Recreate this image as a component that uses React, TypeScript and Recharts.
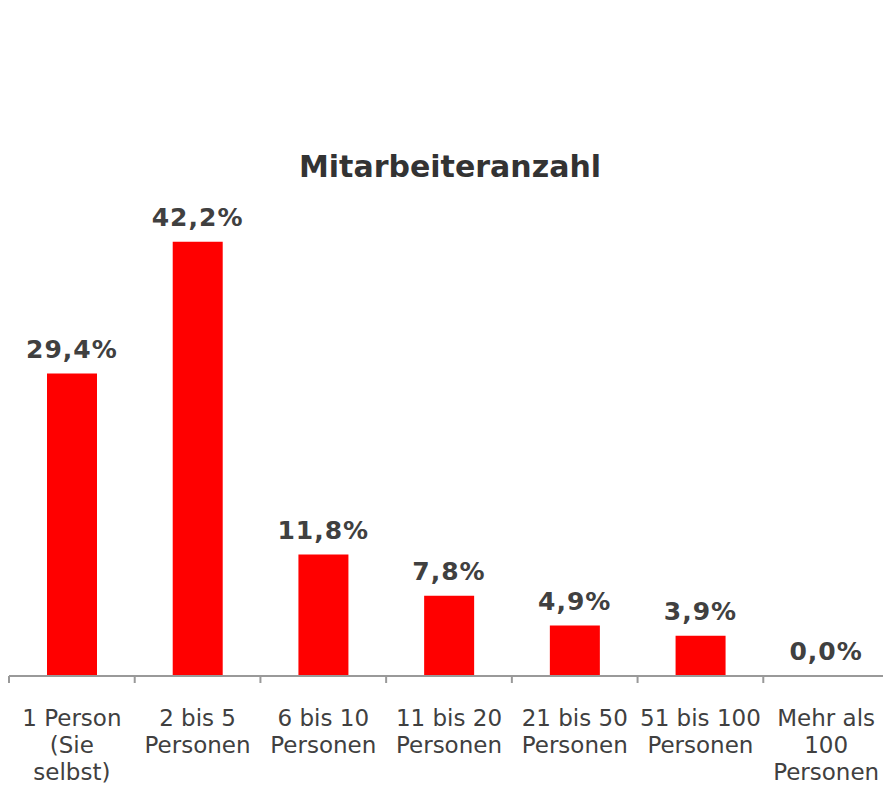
import React from "react";
import { ComposedChart, Bar, Line, XAxis, YAxis, LabelList } from "recharts";

const categories = [
  "1 Person (Sie selbst)",
  "2 bis 5 Personen",
  "6 bis 10 Personen",
  "11 bis 20 Personen",
  "21 bis 50 Personen",
  "51 bis 100 Personen",
  "Mehr als 100 Personen",
];

const tickLines = [
  ["1 Person", "(Sie", "selbst)"],
  ["2 bis 5", "Personen"],
  ["6 bis 10", "Personen"],
  ["11 bis 20", "Personen"],
  ["21 bis 50", "Personen"],
  ["51 bis 100", "Personen"],
  ["Mehr als", "100", "Personen"],
];

const values = [29.4, 42.2, 11.8, 7.8, 4.9, 3.9, 0.0];

const title = "Mitarbeiteranzahl";

const data = categories.map((c, i) => ({ category: c, value: values[i] }));

const FONT = "'DejaVu Sans', Verdana, sans-serif";
const TEXT = "#404040";
const AXIS = "#999999";

const Tick = (props: any) => {
  const { x, y, index, width, visibleTicksCount } = props;
  const band = (width || 880) / (visibleTicksCount || categories.length);
  const lines = tickLines[index] || [];
  const left = x - band / 2;
  return (
    <g>
      <line x1={left} x2={left} y1={y} y2={y + 7} stroke={AXIS} strokeWidth={2} />
      {index === categories.length - 1 && (
        <line x1={left + band} x2={left + band} y1={y} y2={y + 7} stroke={AXIS} strokeWidth={2} />
      )}
      <text textAnchor="middle" fontFamily={FONT} fontSize={23} fill={TEXT}>
        {lines.map((l, i) => (
          <tspan key={i} x={x} y={y + 50 + i * 27}>
            {l}
          </tspan>
        ))}
      </text>
    </g>
  );
};

const ValueLabel = (props: any) => {
  const { x, y, value } = props;
  const txt = Number(value).toFixed(1).replace(".", ",") + "%";
  return (
    <text
      x={x}
      y={y - 16}
      textAnchor="middle"
      fontFamily={FONT}
      fontWeight="bold"
      fontSize={25}
      letterSpacing={1}
      fill={TEXT}
    >
      {txt}
    </text>
  );
};

export default function App() {
  return (
    <div
      style={{
        position: "fixed",
        left: 0,
        top: 0,
        width: 883,
        height: 785,
        overflow: "hidden",
        background: "#fff",
      }}
    >
      <ComposedChart
        width={889}
        height={785}
        data={data}
        margin={{ top: 213, right: 0, bottom: 0, left: 9 }}
      >
        <XAxis
          dataKey="category"
          height={109}
          interval={0}
          tickLine={false}
          tickSize={0}
          tickMargin={0}
          axisLine={{ stroke: AXIS, strokeWidth: 2 }}
          tick={<Tick />}
        />
        <YAxis hide domain={[0, 45]} />
        <Bar dataKey="value" fill="#FF0000" barSize={50} isAnimationActive={false} />
        <Line
          dataKey="value"
          stroke="none"
          dot={false}
          activeDot={false}
          legendType="none"
          isAnimationActive={false}
        >
          <LabelList dataKey="value" content={<ValueLabel />} />
        </Line>
      </ComposedChart>
      <svg
        width={883}
        height={785}
        style={{ position: "absolute", left: 0, top: 0, pointerEvents: "none" }}
      >
        <text
          x={450}
          y={177}
          textAnchor="middle"
          fontFamily={FONT}
          fontWeight="bold"
          fontSize={30}
          fill="#333333"
        >
          {title}
        </text>
      </svg>
    </div>
  );
}
